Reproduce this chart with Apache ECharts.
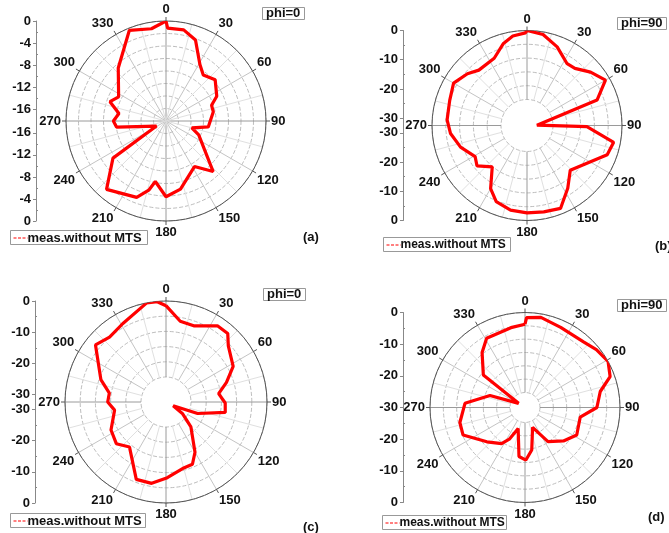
<!DOCTYPE html>
<html>
<head>
<meta charset="utf-8">
<script src="https://cdn.jsdelivr.net/npm/echarts@6/dist/echarts.min.js"></script>
<style>
html, body { margin: 0; padding: 0; background: #fff; }
#chart { width: 669px; height: 533px; }
</style>
</head>
<body>
<div id="chart"></div>
<script>
// measured patterns: angle (deg) and level (dB)
var aAngles = [0, 1, 11, 20, 31, 39, 50, 64, 71, 79, 98, 105, 113, 137, 148, 168, 180, 190, 194, 201, 221, 235, 242, 263, 270, 279, 289, 297, 318, 338, 351];
var aValues = [0, -1.3, -1.3, -2.5, -6.2, -7.4, -6.5, -7.9, -9.4, -9.4, -10.4, -13.3, -11.7, -5.6, -8.4, -5.5, -4.4, -7.0, -5.2, -3.3, -1.7, -6.4, -16.2, -9.1, -8.6, -9.5, -7.4, -8.5, -5.2, -0.4, -1.2];

var bAngles = [0, 10, 21, 33, 40, 50, 60, 70, 88, 91, 101, 110, 136, 147, 158, 169, 180, 191, 202, 210, 220, 231, 239, 252, 264, 274, 288, 300, 311, 319, 334, 344, 351, 359];
var bValues = [0, -0.9, -3.7, -7.3, -7.0, -4.1, -1.5, -7.0, -29.1, -12.0, -2.3, -3.3, -11.2, -6.9, -1.9, -2.4, -2.6, -3.0, -4.4, -7.6, -14.0, -10.5, -11.8, -8.6, -6.2, -5.1, -4.7, -3.5, -5.5, -7.4, -6.9, -3.3, -1.5, -0.8];

var cAngles = [0, 10, 20, 34, 42, 48, 62, 72, 81, 91, 100, 110, 118, 125, 135, 150, 157, 166, 179, 190, 201, 219, 230, 243, 261, 270, 279, 289, 309, 319, 331, 349, 355];
var cValues = [-1.5, -6.1, -6.4, -2.9, -2.8, -5.5, -8.0, -12.0, -15.3, -13.4, -13.1, -21.6, -29.8, -26.0, -21.1, -13.8, -10.7, -10.4, -8.1, -5.9, -5.8, -13.8, -11.6, -12.6, -15.7, -13.7, -14.0, -10.3, -3.3, -4.8, -3.7, 0, -0.1];

var dAngles = [0, 1, 10, 24, 42, 51, 61, 70, 78, 90, 100, 118, 131, 146, 159, 171, 179, 187, 198, 206, 213, 228, 246, 257, 274, 289, 303, 308, 322, 331, 350];
var dValues = [-3.7, -1.6, -1.1, -2.3, -2.2, -1.0, 0, -1.4, -5.7, -7.3, -12.3, -11.5, -13.9, -17.0, -23.3, -16.4, -13.4, -14.4, -23.0, -19.0, -16.4, -13.8, -8.6, -8.9, -11.0, -18.3, -27.6, -13.3, -8.0, -5.0, -4.4];

// left scale tick labels (dB)
var aTicks = [0, -4, -8, -12, -16];
var aMinor = [-2, -6, -10, -14];
var bTicks = [0, -10, -20, -30];
var bMinor = [-5, -15, -25];
var cTicks = [0, -10, -20, -30];
var cMinor = [-5, -15, -25];
var dTicks = [0, -10, -20, -30];
var dMinor = [-5, -15, -25];

var seriesName = 'meas.without MTS';
var font = '"Liberation Sans", Arial, sans-serif';
var red = '#ff0000';

var panels = [
    { angles: aAngles, values: aValues, ticks: aTicks, minor: aMinor, lo: -18.15, phi: 'phi=0', tag: '(a)',
      cx: 166, cy: 121, r: 100, hole: 0, rings: 8, axisX: 36,
      phiX: 262, phiY: 7, legX: 10, legY: 230, legW: 137, legFont: 13, tagX: 303, tagY: 231 },
    { angles: bAngles, values: bValues, ticks: bTicks, minor: bMinor, lo: -32.5, phi: 'phi=90', tag: '(b)',
      cx: 527, cy: 125.5, r: 95, hole: 26, rings: 5, axisX: 403,
      phiX: 617, phiY: 17, legX: 383, legY: 237, legW: 127, legFont: 12, tagX: 655, tagY: 240 },
    { angles: cAngles, values: cValues, ticks: cTicks, minor: cMinor, lo: -32.4, phi: 'phi=0', tag: '(c)',
      cx: 166, cy: 402, r: 101, hole: 25, rings: 5, axisX: 35,
      phiX: 263, phiY: 288, legX: 10, legY: 513, legW: 135, legFont: 13, tagX: 303, tagY: 521 },
    { angles: dAngles, values: dValues, ticks: dTicks, minor: dMinor, lo: -30, phi: 'phi=90', tag: '(d)',
      cx: 525, cy: 407.5, r: 95, hole: 15, rings: 6, axisX: 403,
      phiX: 617, phiY: 299, legX: 382, legY: 515, legW: 124, legFont: 12, tagX: 648, tagY: 511 }
];

var grids = [], xAxes = [], yAxes = [], polars = [], angleAxes = [], radiusAxes = [];
var series = [], titles = [], graphics = [];

// grid polars (spokes + dashed rings) first, data polars after
panels.forEach(function (p, i) {
    polars.push({ center: [p.cx, p.cy], radius: [p.hole, p.r] });
    angleAxes.push({
        polarIndex: i, type: 'value', min: 0, max: 360, interval: 15,
        startAngle: 90, clockwise: true,
        axisLine: { show: false }, axisTick: { show: false }, axisLabel: { show: false },
        splitLine: { show: true, lineStyle: { width: 1, color: ['#9a9a9a', '#e0e0e0', '#c4c4c4', '#e0e0e0', '#c4c4c4', '#e0e0e0'] } }
    });
    radiusAxes.push({
        polarIndex: i, type: 'value', min: 0, max: p.rings, interval: 1,
        axisLine: { show: false }, axisTick: { show: false }, axisLabel: { show: false },
        splitLine: { show: true, lineStyle: { type: 'dashed', color: '#bdbdbd', width: 1 } }
    });
});

panels.forEach(function (p, i) {
    var k = panels.length + i;
    polars.push({ center: [p.cx, p.cy], radius: [0, p.r] });
    angleAxes.push({
        polarIndex: k, type: 'value', min: 0, max: 360, interval: 30,
        startAngle: 90, clockwise: true,
        axisLine: { show: true, lineStyle: { color: '#555', width: 1 } },
        axisTick: { show: true, length: 4, lineStyle: { color: '#555' } },
        axisLabel: { margin: 5, fontSize: 13, fontWeight: 'bold', color: '#111', fontFamily: font },
        splitLine: { show: false }
    });
    radiusAxes.push({ polarIndex: k, type: 'value', min: p.lo, max: 0, show: false });

    var pts = p.angles.map(function (a, j) { return [p.values[j], a]; });
    pts.push([p.values[0], 360]);
    series.push({
        type: 'line', name: seriesName, coordinateSystem: 'polar', polarIndex: k,
        data: pts, symbol: 'none', silent: true, z: 5,
        lineStyle: { color: red, width: 3.2 }, itemStyle: { color: red }
    });

    // mirrored left scale: 0 at top and bottom, lo at the centre
    var S = -p.lo;
    var major = [], minor = [];
    p.ticks.forEach(function (d) {
        major.push(S + d);
        if (S + d > 1e-6) major.push(-(S + d));
    });
    p.minor.forEach(function (d) { minor.push(S + d); minor.push(-(S + d)); });

    grids.push({ left: p.axisX, top: p.cy - p.r, width: 1, height: 2 * p.r, outerBoundsMode: 'none' });
    xAxes.push({ gridIndex: i, type: 'value', show: false });
    yAxes.push({
        gridIndex: i, type: 'value', min: -S, max: S, position: 'left',
        axisLine: { show: true, lineStyle: { color: '#888' } },
        axisTick: { show: true, length: 3, customValues: major, lineStyle: { color: '#888' } },
        axisLabel: {
            customValues: major, margin: 5, fontSize: 13, fontWeight: 'bold', color: '#111', fontFamily: font,
            formatter: function (v) { return String(Math.round(Math.abs(v) - S)); }
        },
        splitLine: { show: false }
    });
    yAxes.push({
        gridIndex: i, type: 'value', min: -S, max: S, position: 'left',
        axisLine: { show: false },
        axisTick: { show: true, inside: true, length: 2, customValues: minor, lineStyle: { color: '#888' } },
        axisLabel: { show: false },
        splitLine: { show: false }
    });

    titles.push({
        text: p.phi, left: p.phiX, top: p.phiY, padding: [0, 4],
        borderColor: '#999', borderWidth: 1,
        textStyle: { fontSize: 13, lineHeight: 13, fontWeight: 'bold', color: '#111', fontFamily: font }
    });
    titles.push({
        text: p.tag, left: p.tagX, top: p.tagY, padding: 0,
        textStyle: { fontSize: 13, fontWeight: 'bold', color: '#111', fontFamily: font }
    });

    // legend box: short red dashed line + series name
    graphics.push({
        type: 'group', left: p.legX, top: p.legY,
        children: [
            { type: 'rect', shape: { x: 0, y: 0, width: p.legW, height: 14 },
              style: { fill: '#fff', stroke: '#999', lineWidth: 1 } },
            { type: 'line', shape: { x1: 3, y1: 7.5, x2: 17, y2: 7.5 },
              style: { stroke: red, lineWidth: 1.2, lineDash: [3, 1.5] } },
            { type: 'text', x: 17, y: p.legFont === 13 ? 1 : 1.5,
              style: { text: seriesName, fill: '#111', font: 'bold ' + p.legFont + 'px ' + font } }
        ]
    });
});

var chart = echarts.init(document.getElementById('chart'));
chart.setOption({
    animation: false,
    backgroundColor: '#fff',
    title: titles,
    graphic: graphics,
    grid: grids,
    xAxis: xAxes,
    yAxis: yAxes,
    polar: polars,
    angleAxis: angleAxes,
    radiusAxis: radiusAxes,
    series: series
});
</script>
</body>
</html>
